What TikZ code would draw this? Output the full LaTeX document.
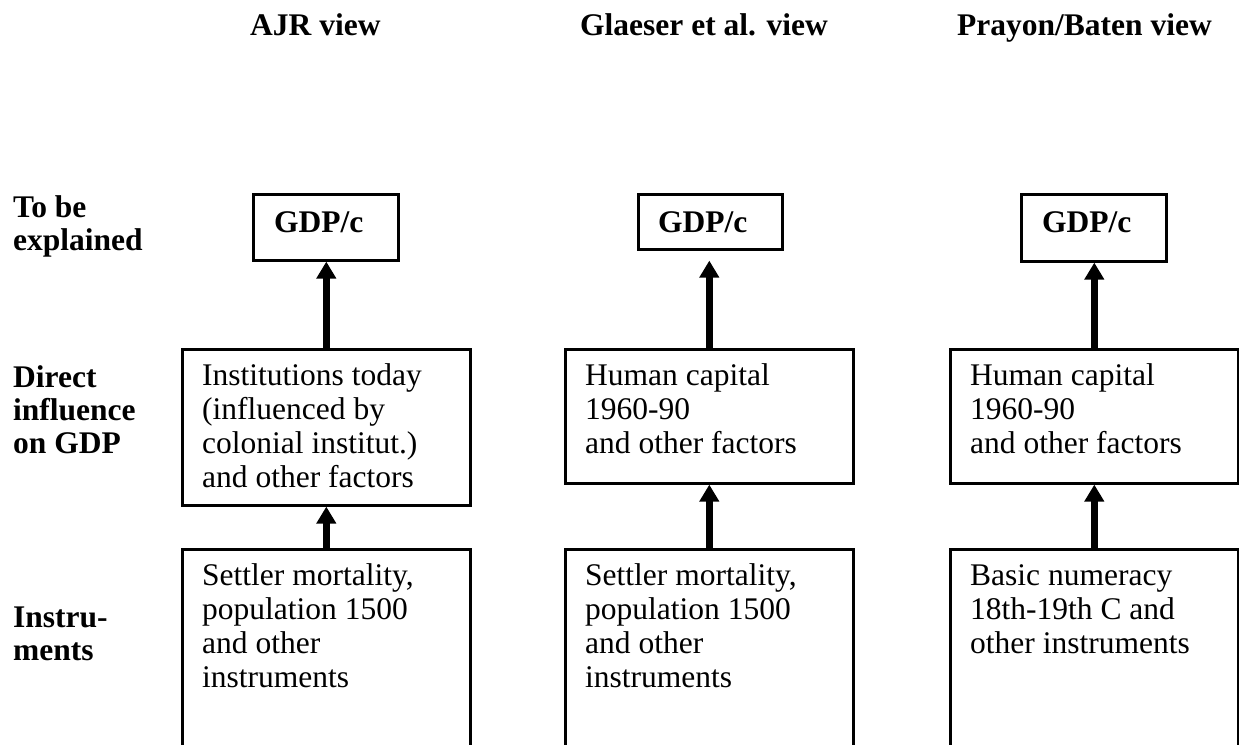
\documentclass[tikz,border=0pt]{standalone}
\usepackage{fontspec}
\setmainfont{Liberation Serif}
\usetikzlibrary{arrows.meta}
\begin{document}
\begin{tikzpicture}[x=1pt,y=-1pt,
  box/.style={draw,line width=2.6pt,inner sep=0pt,anchor=north west},
  txt/.style={inner sep=0pt,anchor=base west,font=\fontsize{31.5}{34}\selectfont},
  btxt/.style={txt,font=\fontsize{31.5}{33}\selectfont\bfseries},
  arr/.style={line width=6.5pt,-{Triangle[length=17pt,width=19pt]}}]
\useasboundingbox (0,0) rectangle (1239,744);
\clip (0,0) rectangle (1239,744);
% headers
\node[btxt] (h1) at (250,35) {AJR view};
\node[btxt] (h2) at (580,35) {Glaeser et al. view};
\node[btxt] (h3) at (957,35) {Prayon/Baten view};
% row labels
\node[btxt] (r1) at (13,217) {\begin{tabular}[t]{@{}l@{}}To be\\explained\end{tabular}};
\node[btxt] (r2) at (13,387) {\begin{tabular}[t]{@{}l@{}}Direct\\influence\\on GDP\end{tabular}};
\node[btxt] (r3) at (13,627) {\begin{tabular}[t]{@{}l@{}}Instru-\\ments\end{tabular}};
% top boxes
\node[box,minimum width=145pt,minimum height=66pt] (g1) at (252,193) {};
\node[box,minimum width=144pt,minimum height=55pt] (g2) at (637,193) {};
\node[box,minimum width=145pt,minimum height=67pt] (g3) at (1020,193) {};
\node[btxt] (g1t) at (274,232) {GDP/c};
\node[btxt] (g2t) at (658,232) {GDP/c};
\node[btxt] (g3t) at (1042,232) {GDP/c};
% middle boxes
\node[box,minimum width=288pt,minimum height=156pt] (m1) at (181,348) {};
\node[box,minimum width=288pt,minimum height=134pt] (m2) at (564,348) {};
\node[box,minimum width=288pt,minimum height=134pt] (m3) at (949,348) {};
\node[txt] (m1t) at (202,385) {\begin{tabular}[t]{@{}l@{}}Institutions today\\(influenced by\\colonial institut.)\\and other factors\end{tabular}};
\node[txt] (m2t) at (585,385) {\begin{tabular}[t]{@{}l@{}}Human capital\\1960-90\\and other factors\end{tabular}};
\node[txt] (m3t) at (970,385) {\begin{tabular}[t]{@{}l@{}}Human capital\\1960-90\\and other factors\end{tabular}};
% bottom boxes
\node[box,minimum width=288pt,minimum height=220pt] (b1) at (181,548) {};
\node[box,minimum width=288pt,minimum height=220pt] (b2) at (564,548) {};
\node[box,minimum width=288pt,minimum height=220pt] (b3) at (949,548) {};
\node[txt] (b1t) at (202,585) {\begin{tabular}[t]{@{}l@{}}Settler mortality,\\population 1500\\and other\\instruments\end{tabular}};
\node[txt] (b2t) at (585,585) {\begin{tabular}[t]{@{}l@{}}Settler mortality,\\population 1500\\and other\\instruments\end{tabular}};
\node[txt] (b3t) at (970,585) {\begin{tabular}[t]{@{}l@{}}Basic numeracy\\18th-19th C and\\other instruments\end{tabular}};
% arrows
\draw[arr] (m1.north) -- (m1.north |- g1.south);
\draw[arr] (m2.north) -- ([yshift=-10pt]m2.north |- g2.south);
\draw[arr] (m3.north) -- (m3.north |- g3.south);
\draw[arr] (b1.north) -- (b1.north |- m1.south);
\draw[arr] (b2.north) -- (b2.north |- m2.south);
\draw[arr] (b3.north) -- (b3.north |- m3.south);
\end{tikzpicture}
\end{document}
